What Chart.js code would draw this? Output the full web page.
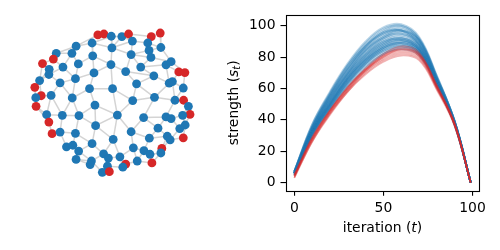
<!DOCTYPE html>
<html>
<head>
<meta charset="utf-8">
<script src="https://cdn.jsdelivr.net/npm/chart.js@4"></script>
<style>
  html, body { margin: 0; padding: 0; background: #fff; }
  #wrap { position: relative; width: 500px; height: 250px; overflow: hidden; }
  #net { position: absolute; left: 0; top: 0; }
  #runs { position: absolute; left: 220px; top: 0; }
</style>
</head>
<body>
<div id="wrap">
  <canvas id="net" width="220" height="250"></canvas>
  <canvas id="runs" width="280" height="250"></canvas>
</div>
<script>
// network layout (node positions), 1 = red node
var nodeX = [292,311,334,367,388,400,459,487,448,489, 452,458,274,224,336,162,153,119,211,276,
             396,140,183,231,333,426,379,505,521,545, 564,139,110,280,222,467,174,413,515,525,
             559,95,266,338,115,98,146,212,469,401, 533,560,575,99,283,580,132,181,233,353,
             435,505,521,557,139,285,480,565,548,149, 174,222,396,340,453,509,518,559,194,214,
             274,232,403,436,455,492,489,310,325,361, 224,272,268,415,461,379,370,322,306,328];
var nodeY = [95,92,99,100,92,114,100,89,120,134, 143,165,120,130,135,152,170,184,152,160,
             156,202,195,185,187,195,209,188,178,210, 212,218,237,213,231,222,244,247,245,240,
             260,258,262,262,284,290,283,291,289,299, 298,298,317,317,313,342,343,345,346,344,
             352,350,355,345,366,377,385,375,386,402, 397,401,396,420,416,410,421,415,443,438,
             433,456,446,455,466,448,462,465,478,474, 482,487,498,487,493,497,506,503,522,520];
var nodeGroup = [1,1,0,0,1,0,1,1,0,0, 0,0,0,0,0,0,1,1,0,0, 0,0,0,0,0,0,0,0,0,1,
                 1,0,0,0,0,0,0,0,0,0, 0,1,0,0,1,0,0,0,0,0, 0,1,0,1,0,1,0,0,0,0,
                 0,0,0,0,1,0,0,0,0,1, 0,0,0,0,0,0,0,1,0,0, 0,0,0,0,0,1,0,0,0,0,
                 0,0,0,0,1,1,0,0,0,1];
var edges = [
  [0,1],[1,2],[2,3],[3,4],[4,5],[3,5],[2,12],[2,14],[12,14],[5,14],[3,14],[5,8],[4,6],[6,8],[6,7],
  [7,9],[8,9],[8,10],[9,10],[10,11],[10,20],[11,20],[5,20],[14,20],[14,24],[12,19],[12,13],[0,13],
  [13,18],[13,15],[15,18],[15,16],[16,17],[17,21],[16,22],[18,22],[18,23],[19,23],[19,24],[19,33],
  [24,26],[20,26],[20,25],[11,25],[9,28],[11,28],[27,28],[25,27],[25,35],[26,35],[27,29],[29,30],
  [28,30],[27,38],[38,39],[29,39],[30,40],[39,40],[35,38],[35,37],[26,37],[24,33],[24,43],[33,34],
  [23,34],[22,34],[22,31],[21,31],[21,32],[31,32],[31,36],[34,36],[32,41],[36,46],[41,45],[44,45],
  [44,46],[45,53],[32,44],[36,47],[34,47],[33,42],[42,47],[42,43],[43,49],[37,49],[37,48],[48,49],
  [38,48],[40,50],[39,50],[50,51],[51,52],[48,50],[48,60],[49,59],[43,59],[42,54],[54,59],[47,58],
  [54,58],[46,57],[47,57],[46,56],[53,56],[56,57],[57,58],[56,64],[64,69],[69,70],[57,70],[58,71],
  [70,71],[58,65],[54,65],[59,65],[59,73],[59,72],[60,72],[60,61],[61,62],[62,63],[52,63],[55,63],
  [52,55],[50,61],[55,67],[63,67],[67,68],[62,68],[61,66],[60,66],[66,74],[72,74],[66,75],[75,76],
  [68,76],[76,77],[67,77],[65,73],[65,80],[71,80],[71,79],[70,78],[78,79],[79,81],[80,81],[80,87],
  [73,87],[73,89],[72,82],[82,89],[74,83],[82,83],[83,84],[84,86],[85,86],[75,85],[76,85],[84,94],
  [86,94],[82,93],[83,93],[93,95],[89,95],[89,96],[95,96],[87,88],[88,89],[88,97],[96,97],[97,99],
  [98,99],[97,98],[91,98],[91,92],[90,91],[81,90],[81,91],[87,91],[90,92],[88,99],[93,94],[41,53],
  [53,64],[17,32],[74,75]
];

// strength curves, sampled at these iterations
var iterations = [0, 10, 20, 30, 40, 50, 60, 70, 80, 90, 99];
var strengthBlue = [
  [5,29,47,61,73,82,85,81,61,37,0],
  [5,30,47,62,74,82,86,82,62,37,0],
  [5,30,47,63,75,83,87,82,62,37,0],
  [5,30,48,63,76,84,87,83,62,37,0],
  [6,30,48,64,76,84,88,83,62,37,0],
  [5,31,48,64,76,85,88,83,62,38,0],
  [6,31,49,64,77,85,89,84,63,37,0],
  [6,31,49,65,77,86,89,84,63,38,0],
  [5,31,49,65,78,86,89,84,63,38,0],
  [6,31,50,66,78,86,90,85,63,38,0],
  [6,32,50,66,78,87,90,85,63,38,0],
  [6,32,50,66,79,87,91,85,63,38,0],
  [6,32,50,67,79,88,91,85,64,38,0],
  [6,32,51,67,80,88,91,86,64,38,0],
  [6,32,51,67,80,89,92,86,64,38,0],
  [6,33,51,68,81,89,92,86,64,38,0],
  [6,33,52,68,81,90,93,87,64,38,0],
  [6,33,52,69,82,90,92,87,65,38,0],
  [6,33,53,69,82,91,94,88,65,38,0],
  [6,34,53,70,83,92,95,88,65,38,0],
  [6,34,54,70,84,92,95,89,65,38,0],
  [7,34,54,71,85,93,96,89,66,38,0],
  [7,35,55,72,85,94,97,90,66,39,0],
  [7,35,55,72,86,95,97,90,66,39,0],
  [7,35,56,73,87,95,98,91,67,39,0],
  [7,36,56,74,87,96,99,91,67,39,0],
  [7,36,57,75,88,97,100,92,67,39,0],
  [7,37,57,75,89,98,100,92,68,39,0],
  [7,37,58,76,90,99,101,93,68,39,0],
  [6,35,55,73,87,96,97,88,65,38,0],
  [6,33,53,70,84,93,97,91,67,39,0]
];
var strengthRed = [
  [4,27,45,59,71,79,83,80,60,37,0],
  [4,28,45,60,72,80,85,81,61,37,0],
  [4,27,44,59,71,80,84,81,61,37,0],
  [5,28,46,60,72,81,86,82,62,37,0],
  [3,26,43,58,69,77,81,78,59,36,0],
  [4,28,46,61,73,82,87,83,62,38,0],
  [5,29,46,61,72,81,85,82,61,37,0],
  [3,26,44,58,70,78,82,79,60,36,0]
];
var xTicks = [0, 50, 100];
var yTicks = [0, 20, 40, 60, 80, 100];

var tickFont = { family: 'DejaVu Sans', size: 13.9 };

// ---- network ----
var edgePoints = [];
edges.forEach(function(e) {
  edgePoints.push({ x: nodeX[e[0]], y: nodeY[e[0]] });
  edgePoints.push({ x: nodeX[e[1]], y: nodeY[e[1]] });
  edgePoints.push({ x: null, y: null });
});
var nodePoints = nodeX.map(function(x, i) { return { x: x, y: nodeY[i] }; });
var nodeColors = nodeGroup.map(function(g) { return g ? '#d62728' : '#1f77b4'; });

new Chart(document.getElementById('net'), {
  type: 'scatter',
  data: {
    datasets: [{
      data: edgePoints,
      order: 2,
      showLine: true,
      spanGaps: false,
      borderColor: 'rgba(205,205,205,0.85)',
      borderWidth: 1.5,
      pointRadius: 0
    }, {
      data: nodePoints,
      order: 1,
      pointRadius: 4.4,
      pointBorderWidth: 0,
      pointBackgroundColor: nodeColors
    }]
  },
  options: {
    responsive: false,
    animation: false,
    layout: { padding: 0 },
    plugins: { legend: { display: false }, tooltip: { enabled: false } },
    scales: {
      x: { type: 'linear', display: false, min: 0, max: 660 },
      y: { type: 'linear', display: false, min: 0, max: 750, reverse: true }
    }
  }
});

// ---- strength curves ----
function toPoints(vals) {
  return vals.map(function(v, i) { return { x: iterations[i], y: v }; });
}
var runSets = [];
strengthBlue.forEach(function(s) {
  runSets.push({ data: toPoints(s), order: 2, borderColor: 'rgba(31,119,180,0.3)' });
});
strengthRed.forEach(function(s) {
  runSets.push({ data: toPoints(s), order: 1, borderColor: 'rgba(214,39,40,0.35)', borderWidth: 1.6 });
});

function drawParts(ctx, parts, x, y, angle) {
  ctx.save();
  ctx.translate(x, y);
  ctx.rotate(angle);
  ctx.textBaseline = 'alphabetic';
  ctx.textAlign = 'left';
  ctx.fillStyle = '#000';
  var total = 0;
  parts.forEach(function(p) { ctx.font = p.font; p.w = ctx.measureText(p.text).width; total += p.w; });
  var cx = -total / 2;
  parts.forEach(function(p) { ctx.font = p.font; ctx.fillText(p.text, cx, p.dy || 0); cx += p.w; });
  ctx.restore();
}

var frame = {
  id: 'frame',
  afterDraw: function(chart) {
    var ctx = chart.ctx, a = chart.chartArea;
    ctx.save();
    ctx.strokeStyle = '#000';
    ctx.lineWidth = 1.1;
    ctx.strokeRect(Math.round(a.left) + 0.5, Math.round(a.top) + 0.5,
                   Math.round(a.right - a.left) - 1, Math.round(a.bottom - a.top));
    ctx.restore();
    var normal = '13.9px "DejaVu Sans"', ital = 'italic 13.9px "DejaVu Sans"', sub = 'italic 9.7px "DejaVu Sans"';
    drawParts(ctx, [
      { text: 'iteration (', font: normal },
      { text: 't', font: ital },
      { text: ')', font: normal }
    ], (a.left + a.right) / 2, 231.5, 0);
    drawParts(ctx, [
      { text: 'strength (', font: normal },
      { text: 's', font: ital },
      { text: 't', font: sub, dy: 2.5 },
      { text: ')', font: normal }
    ], 17.5, (a.top + a.bottom) / 2, -Math.PI / 2);
  }
};

new Chart(document.getElementById('runs'), {
  type: 'line',
  data: { datasets: runSets },
  options: {
    responsive: false,
    animation: false,
    layout: { padding: { top: 15, right: 20.5, left: 0, bottom: 0 } },
    plugins: { legend: { display: false }, tooltip: { enabled: false } },
    elements: {
      point: { radius: 0 },
      line: { borderWidth: 2, tension: 0.4, fill: false }
    },
    scales: {
      x: {
        type: 'linear', min: -4.95, max: 103.95,
        afterBuildTicks: function(s) { s.ticks = xTicks.map(function(v) { return { value: v }; }); },
        afterFit: function(s) { s.height = 59.3; },
        ticks: { font: tickFont, color: '#000', padding: 4, maxRotation: 0 },
        grid: { drawOnChartArea: false, drawTicks: true, tickLength: 5, color: '#000', lineWidth: 1.1 },
        border: { display: false }
      },
      y: {
        type: 'linear', min: -5.2, max: 106.9,
        afterBuildTicks: function(s) { s.ticks = yTicks.map(function(v) { return { value: v }; }); },
        afterFit: function(s) { s.width = 65.5; },
        ticks: { font: tickFont, color: '#000', padding: 5 },
        grid: { drawOnChartArea: false, drawTicks: true, tickLength: 5, color: '#000', lineWidth: 1.1 },
        border: { display: false }
      }
    }
  },
  plugins: [frame]
});
</script>
</body>
</html>
